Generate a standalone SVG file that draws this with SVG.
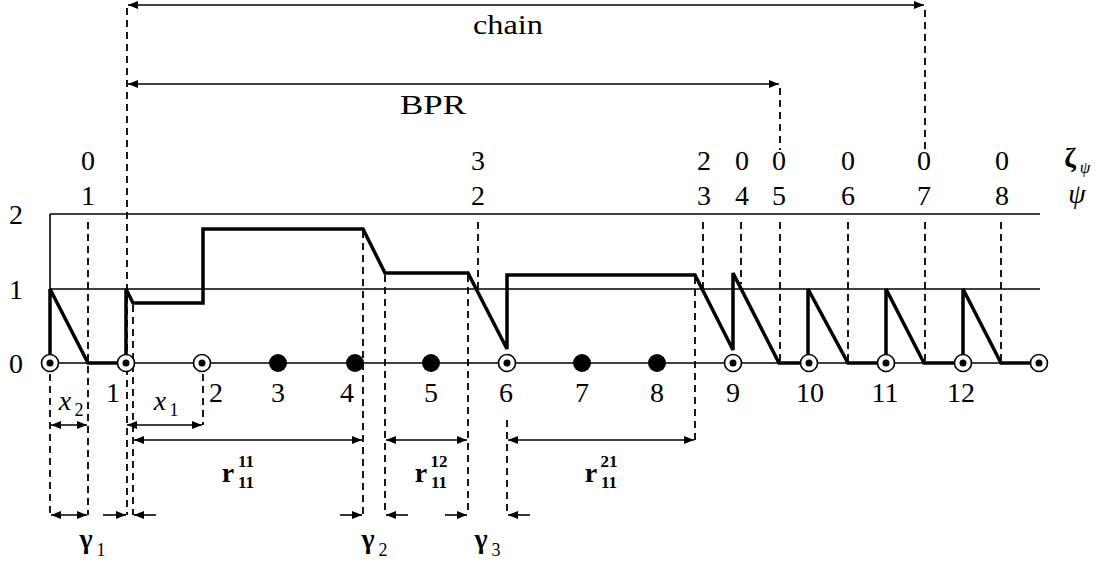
<svg xmlns="http://www.w3.org/2000/svg" width="1098" height="566" viewBox="0 0 1098 566" font-family="'Liberation Serif', 'Times New Roman', Tinos, 'DejaVu Serif', serif">
<style>
.t{font-family:'Liberation Serif','Times New Roman',Tinos,'DejaVu Serif',serif;font-size:28px;fill:#000;text-anchor:middle}
.it{font-style:italic}
.b{font-weight:bold}
.thin{stroke:#000;stroke-width:1.6;fill:none}
.thick{stroke:#000;stroke-width:3.5;fill:none;stroke-linejoin:miter}
.dash{stroke:#000;stroke-width:1.8;stroke-dasharray:7,5;fill:none}
.arr{stroke:#000;stroke-width:1.6;fill:none;marker-end:url(#ah)}
.arr2{stroke:#000;stroke-width:1.6;fill:none;marker-end:url(#ah);marker-start:url(#ah)}
</style>
<defs>
<marker id="ah" viewBox="0 0 10 8" refX="10" refY="4" markerWidth="10" markerHeight="8" markerUnits="userSpaceOnUse" orient="auto-start-reverse">
<path d="M0,0 L10,4 L0,8 Z" fill="#000"/>
</marker>
</defs>
<rect width="1098" height="566" fill="#fff"/>

<g id="axes">
<line class="thin" x1="50" y1="214" x2="1040" y2="214"/>
<line class="thin" x1="50" y1="289" x2="1040" y2="289"/>
<line class="thin" x1="50" y1="363" x2="1040" y2="363"/>
<line class="thin" x1="50" y1="214" x2="50" y2="363"/>
<text class="t" x="16" y="224">2</text>
<text class="t" x="16" y="299">1</text>
<text class="t" x="16" y="373">0</text>
</g>

<g id="curve">
<path class="thick" d="M50,363 L50,289 L88,363 L126,363 L126,289 L133,303 L203,303 L203,229 L363,229 L385,273 L468,273 L507,349 L507,275 L695,275 L733,350 L733,273 L779,363 L808,363 L808,289 L848,363 L886,363 L886,289 L924,363 L963,363 L963,289 L1001,363 L1040,363"/>
</g>

<g id="connectors">
<line class="dash" x1="127" y1="8" x2="127" y2="515"/>
<line class="dash" x1="780" y1="88" x2="780" y2="150"/>
<line class="dash" x1="780" y1="222" x2="780" y2="363"/>
<line class="dash" x1="925" y1="10" x2="925" y2="150"/>
<line class="dash" x1="925" y1="222" x2="925" y2="363"/>
<line class="dash" x1="88" y1="222" x2="88" y2="515"/>
<line class="dash" x1="478" y1="222" x2="478" y2="289"/>
<line class="dash" x1="703" y1="222" x2="703" y2="289"/>
<line class="dash" x1="741" y1="222" x2="741" y2="284"/>
<line class="dash" x1="848" y1="222" x2="848" y2="363"/>
<line class="dash" x1="1001" y1="222" x2="1001" y2="363"/>
<line class="dash" x1="50" y1="374" x2="50" y2="515"/>
<line class="dash" x1="133" y1="305" x2="133" y2="515"/>
<line class="dash" x1="203" y1="374" x2="203" y2="425"/>
<line class="dash" x1="363" y1="231" x2="363" y2="515"/>
<line class="dash" x1="385" y1="275" x2="385" y2="515"/>
<line class="dash" x1="468" y1="275" x2="468" y2="515"/>
<line class="dash" x1="507" y1="420" x2="507" y2="515"/>
<line class="dash" x1="695" y1="277" x2="695" y2="440"/>

<line class="arr2" x1="128" y1="5" x2="924" y2="5"/>
<line class="arr2" x1="128" y1="84" x2="779" y2="84"/>
<line class="arr2" x1="51" y1="425" x2="87" y2="425"/>
<line class="arr2" x1="127" y1="425" x2="202" y2="425"/>
<line class="arr2" x1="134" y1="440" x2="362" y2="440"/>
<line class="arr2" x1="386" y1="440" x2="467" y2="440"/>
<line class="arr2" x1="508" y1="440" x2="694" y2="440"/>
<line class="arr2" x1="51" y1="515" x2="87" y2="515"/>
<line class="arr" x1="103" y1="515" x2="126" y2="515"/>
<line class="arr" x1="156" y1="515" x2="134" y2="515"/>
<line class="arr" x1="340" y1="515" x2="362" y2="515"/>
<line class="arr" x1="408" y1="515" x2="386" y2="515"/>
<line class="arr" x1="445" y1="515" x2="467" y2="515"/>
<line class="arr" x1="530" y1="515" x2="508" y2="515"/>
</g>

<g id="nodes">
<g id="n0"><circle cx="50" cy="363" r="8.5" fill="#fff" stroke="#000" stroke-width="1.6"/><circle cx="50" cy="363" r="3.5"/></g>
<g id="n1"><circle cx="126" cy="363" r="8.5" fill="#fff" stroke="#000" stroke-width="1.6"/><circle cx="126" cy="363" r="3.5"/></g>
<g id="n2"><circle cx="202" cy="363" r="8.5" fill="#fff" stroke="#000" stroke-width="1.6"/><circle cx="202" cy="363" r="3.5"/></g>
<g id="n3"><circle cx="278" cy="363" r="9"/></g>
<g id="n4"><circle cx="355" cy="363" r="9"/></g>
<g id="n5"><circle cx="431" cy="363" r="9"/></g>
<g id="n6"><circle cx="507" cy="363" r="8.5" fill="#fff" stroke="#000" stroke-width="1.6"/><circle cx="507" cy="363" r="3.5"/></g>
<g id="n7"><circle cx="582" cy="363" r="9"/></g>
<g id="n8"><circle cx="657" cy="363" r="9"/></g>
<g id="n9"><circle cx="733" cy="363" r="8.5" fill="#fff" stroke="#000" stroke-width="1.6"/><circle cx="733" cy="363" r="3.5"/></g>
<g id="n10"><circle cx="809" cy="363" r="8.5" fill="#fff" stroke="#000" stroke-width="1.6"/><circle cx="809" cy="363" r="3.5"/></g>
<g id="n11"><circle cx="886" cy="363" r="8.5" fill="#fff" stroke="#000" stroke-width="1.6"/><circle cx="886" cy="363" r="3.5"/></g>
<g id="n12"><circle cx="963" cy="363" r="8.5" fill="#fff" stroke="#000" stroke-width="1.6"/><circle cx="963" cy="363" r="3.5"/></g>
<g id="n13"><circle cx="1039" cy="363" r="8.5" fill="#fff" stroke="#000" stroke-width="1.6"/><circle cx="1039" cy="363" r="3.5"/></g>
</g>

<g id="node-labels">
<text class="t" x="113" y="402">1</text>
<text class="t" x="216" y="402">2</text>
<text class="t" x="278" y="402">3</text>
<text class="t" x="347" y="402">4</text>
<text class="t" x="431" y="402">5</text>
<text class="t" x="506" y="402">6</text>
<text class="t" x="582" y="402">7</text>
<text class="t" x="657" y="402">8</text>
<text class="t" x="733" y="402">9</text>
<text class="t" x="810" y="402">10</text>
<text class="t" x="885" y="402">11</text>
<text class="t" x="961" y="402">12</text>
</g>

<g id="top-labels">
<text class="t" x="508" y="34" textLength="70" lengthAdjust="spacingAndGlyphs">chain</text>
<text class="t" x="433" y="114" textLength="66" lengthAdjust="spacingAndGlyphs">BPR</text>
<text class="t" x="88" y="170">0</text><text class="t" x="88" y="205">1</text>
<text class="t" x="478" y="170">3</text><text class="t" x="478" y="205">2</text>
<text class="t" x="704" y="170">2</text><text class="t" x="704" y="205">3</text>
<text class="t" x="742" y="170">0</text><text class="t" x="742" y="205">4</text>
<text class="t" x="779" y="170">0</text><text class="t" x="779" y="205">5</text>
<text class="t" x="848" y="170">0</text><text class="t" x="848" y="205">6</text>
<text class="t" x="924" y="170">0</text><text class="t" x="924" y="205">7</text>
<text class="t" x="1002" y="170">0</text><text class="t" x="1002" y="205">8</text>
<text class="t b" x="1070" y="167">ζ</text><text class="t it" x="1085" y="173" style="font-size:17px">ψ</text>
<text class="t it" x="1077" y="203">ψ</text>
</g>

<g id="dim-labels">
<text class="t it" x="65" y="410">x</text><text class="t" x="79" y="416" style="font-size:18px">2</text>
<text class="t it" x="160" y="410">x</text><text class="t" x="174" y="416" style="font-size:18px">1</text>
<text class="t b" x="228" y="482">r</text><text class="t b" x="246" y="467" style="font-size:17px">11</text><text class="t b" x="246" y="488" style="font-size:17px">11</text>
<text class="t b" x="421" y="482">r</text><text class="t b" x="439" y="467" style="font-size:17px">12</text><text class="t b" x="439" y="488" style="font-size:17px">11</text>
<text class="t b" x="591" y="482">r</text><text class="t b" x="609" y="467" style="font-size:17px">21</text><text class="t b" x="609" y="488" style="font-size:17px">11</text>
<text class="t b" x="86" y="548">γ</text><text class="t" x="101" y="556" style="font-size:18px">1</text>
<text class="t b" x="368" y="548">γ</text><text class="t" x="383" y="556" style="font-size:18px">2</text>
<text class="t b" x="481" y="548">γ</text><text class="t" x="496" y="556" style="font-size:18px">3</text>
</g>
</svg>
